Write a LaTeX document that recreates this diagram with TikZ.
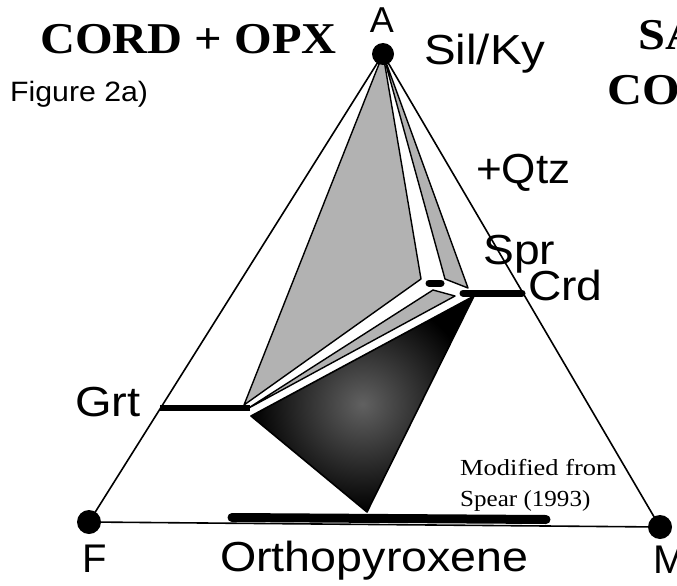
\documentclass[tikz,border=0pt]{standalone}
\usepackage{fontspec}
\newfontfamily\arialish{Liberation Sans}
\newfontfamily\timesish{Liberation Serif}
\newcommand\xwide[2][1.1]{\scalebox{#1}[1]{#2}}
\begin{document}
\begin{tikzpicture}[x=1pt,y=-1pt,
  edge/.style={line width=1.6pt},
  facet/.style={draw=black, line width=1.4pt, line join=round, fill=black!30},
  darkfacet/.style={draw=black, line width=1.6pt, line join=round, inner color=black!62, outer color=black},
  phasebar/.style={line width=#1, line cap=round},
  phasebar/.default=7pt,
  apex/.style={circle, fill=black, inner sep=0pt, minimum size=#1},
  sanslabel/.style={font=\arialish\fontsize{#1}{#1}\selectfont, inner sep=0pt, anchor=base west},
  sanslabel/.default=42,
  titlelabel/.style={font=\timesish\bfseries\fontsize{44}{44}\selectfont, inner sep=0pt, anchor=base west},
  notelabel/.style={font=\timesish\fontsize{23}{23}\selectfont, inner sep=0pt, anchor=base west}
]
\useasboundingbox (0,0) rectangle (677,586);

% vertices of the triangle
\coordinate (A) at (383,54);
\coordinate (F) at (89,522);
\coordinate (M) at (660,527);

% facets
\coordinate (G1) at (244,405);
\coordinate (R1) at (421,279);
\coordinate (S1) at (445,279);
\coordinate (S2) at (468,288);
\coordinate (G2) at (247,409);
\coordinate (P) at (433,290);
\coordinate (Q) at (455,296);
\coordinate (D1) at (251,416);
\coordinate (D2) at (474,296);
\coordinate (O) at (367,512);

\path[facet] (A) -- (G1) -- (R1) -- cycle;
\path[facet] (A) -- (S1) -- (S2) -- cycle;
\path[facet] (G2) -- (P) -- (Q) -- cycle;
\shadedraw[darkfacet] (D1) -- (D2) -- (O) -- cycle;

% triangle edges
\draw[edge] (A) -- (F);
\draw[edge] (A) -- (M);
\draw[edge] (F) -- (M);

% phase bars
\coordinate (grtL) at (160,408);
\coordinate (grtR) at (250,408);
\draw[phasebar=6.5pt, line cap=butt] (grtL) -- (grtR);
\coordinate (sprL) at (429,283);
\coordinate (sprR) at (441,283);
\draw[phasebar=7pt] (sprL) -- (sprR);
\coordinate (crdL) at (463,293);
\coordinate (crdR) at (522,293);
\draw[phasebar=7pt] (crdL) -- (crdR);
\coordinate (opxL) at (232,517.5);
\coordinate (opxR) at (546,519.5);
\draw[phasebar=9pt] (opxL) -- (opxR);

% apex dots
\node[apex=22pt] (dotA) at (A) {};
\node[apex=24pt] (dotF) at (F) {};
\node[apex=24pt] (dotM) at (M) {};

% labels
\node[sanslabel=36, anchor=base] (lA) at (382,33) {A};
\node[sanslabel] (lSil) at (424,65) {\xwide[1.13]{Sil/Ky}};
\node[sanslabel] (lQtz) at (476,183) {\xwide[1.05]{+Qtz}};
\node[sanslabel] (lSpr) at (483,264) {\xwide{Spr}};
\node[sanslabel] (lCrd) at (528,300) {\xwide{Crd}};
\node[sanslabel] (lGrt) at (75,416) {\xwide[1.12]{Grt}};
\node[sanslabel=40] (lF) at (82,572) {F};
\node[sanslabel] (lOpx) at (220,571) {\xwide[1.11]{Orthopyroxene}};
\node[sanslabel=40] (lM) at (653,573) {M};
\node[sanslabel=28] (lFig) at (10,101) {\xwide[1.08]{Figure 2a)}};
\node[titlelabel] (lTitle) at (40,53) {\xwide[1.1]{CORD + OPX}};
\node[titlelabel] (lSA) at (638,49) {\xwide[1.1]{SA}};
\node[titlelabel] (lCO) at (607,104) {\xwide[1.1]{CO}};
\node[notelabel] (lMod) at (460,475) {\xwide[1.15]{Modified from}};
\node[notelabel] (lSpear) at (460,506) {\xwide[1.09]{Spear (1993)}};
\end{tikzpicture}
\end{document}
